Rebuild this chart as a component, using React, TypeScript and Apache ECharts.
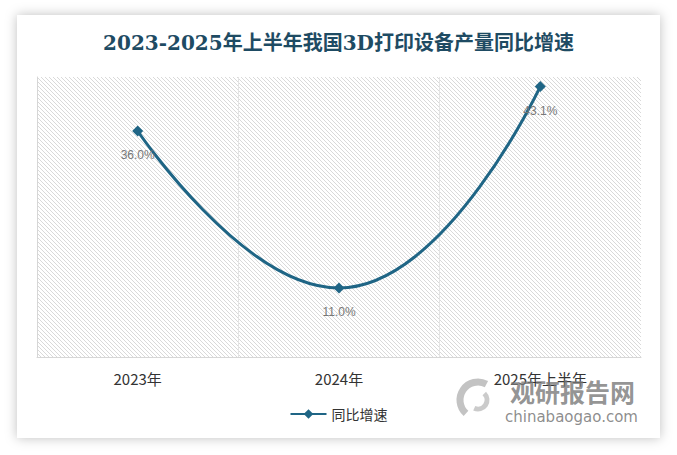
import React, { useEffect, useRef } from "react";
import * as echarts from "echarts";

const categories = ["2023年", "2024年", "2025年上半年"];
const growth = [36.0, 11.0, 43.1];
const seriesName = "同比增速";
const titleText = "2023-2025年上半年我国3D打印设备产量同比增速";

function makeHatch() {
  const c = document.createElement("canvas");
  c.width = 4;
  c.height = 4;
  const ctx = c.getContext("2d")!;
  ctx.fillStyle = "#ffffff";
  ctx.fillRect(0, 0, 4, 4);
  ctx.fillStyle = "#d9d9d9";
  for (let i = 0; i < 4; i++) ctx.fillRect(i, i, 1, 1);
  return c;
}

export default function App() {
  const ref = useRef<HTMLDivElement>(null);
  useEffect(() => {
    if (!ref.current) return;
    const chart = echarts.init(ref.current, null, { renderer: "svg" });
    const hatch = makeHatch();
    const color = "#1f6585";
    chart.setOption({
      animation: false,
      backgroundColor: "#ffffff",
      title: {
        text: titleText,
        left: "center",
        top: 28,
        textStyle: {
          fontFamily: "DejaVu Serif, Noto Sans CJK SC",
          fontSize: 20,
          fontWeight: "bold",
          color: "#1e4b63",
        },
      },
      graphic: [
        {
          type: "rect",
          z: -10,
          shape: { x: 17, y: 15, width: 643, height: 423 },
          style: {
            fill: "#ffffff",
            shadowBlur: 12,
            shadowColor: "rgba(0,0,0,0.25)",
            shadowOffsetX: 0,
            shadowOffsetY: 0,
          },
        },
        {
          type: "text",
          z: 100,
          left: 510,
          top: 378,
          style: {
            text: "观研报告网",
            fontSize: 25,
            fontWeight: "bold",
            fontFamily: "Noto Sans CJK SC",
            fill: "rgba(120,120,120,0.8)",
          },
        },
        {
          type: "text",
          z: 100,
          left: 505,
          top: 409,
          style: {
            text: "chinabaogao.com",
            fontSize: 15,
            fontFamily: "DejaVu Sans",
            fill: "rgba(120,120,120,0.85)",
          },
        },
        {
          type: "arc",
          z: 100,
          shape: { cx: 478, cy: 400, r: 18, startAngle: 2.3, endAngle: 5.2 },
          style: { stroke: "rgba(180,180,180,0.8)", lineWidth: 7, fill: "none" },
        },
        {
          type: "arc",
          z: 100,
          shape: { cx: 478, cy: 400, r: 9, startAngle: -0.8, endAngle: 2.0 },
          style: { stroke: "rgba(190,190,190,0.8)", lineWidth: 5, fill: "none" },
        },
      ],
      grid: {
        left: 37,
        right: 36,
        top: 77,
        bottom: 98,
        show: true,
        borderWidth: 0,
        backgroundColor: {
          image: hatch,
          repeat: "repeat",
          imageWidth: 4,
          imageHeight: 4,
        } as any,
      },
      legend: {
        bottom: 29,
        left: "center",
        itemWidth: 36,
        itemHeight: 12,
        textStyle: { fontSize: 14, color: "#333", fontFamily: "Noto Sans CJK SC" },
        data: [seriesName],
      },
      xAxis: {
        type: "category",
        data: categories,
        boundaryGap: true,
        axisLine: { lineStyle: { color: "#d6d6d6" } },
        axisTick: { show: false },
        axisLabel: {
          fontSize: 15,
          color: "#333",
          margin: 14,
          fontFamily: "Noto Sans CJK SC",
        },
        splitLine: {
          show: true,
          showMinLine: false,
          showMaxLine: false,
          lineStyle: { color: "#e4e4e4" },
        },
      },
      yAxis: {
        type: "value",
        min: 0,
        max: 44.6,
        axisLine: { show: true, lineStyle: { color: "#d6d6d6" } },
        axisTick: { show: false },
        axisLabel: { show: false },
        splitLine: { show: false },
      },
      series: [
        {
          name: seriesName,
          type: "line",
          data: growth,
          smooth: 0.5,
          symbol: "diamond",
          symbolSize: 11,
          lineStyle: { color, width: 3 },
          itemStyle: { color },
          label: {
            show: true,
            position: "bottom",
            distance: 13,
            fontSize: 12,
            color: "#777",
            formatter: (p: any) => p.value.toFixed(1) + "%",
          },
        },
      ],
    });
    return () => chart.dispose();
  }, []);
  return (
    <div
      ref={ref}
      style={{ position: "fixed", left: 0, top: 0, width: 677, height: 455 }}
    />
  );
}
